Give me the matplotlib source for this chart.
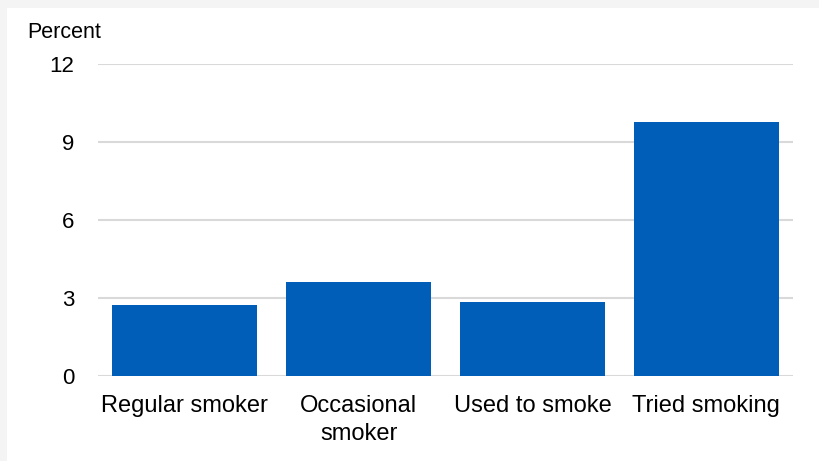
import matplotlib
matplotlib.use('Agg')
import matplotlib.pyplot as plt
from matplotlib.patches import Rectangle

# Chart data
categories = ['Regular smoker', 'Occasional\nsmoker', 'Used to smoke', 'Tried smoking']
percent = [2.75, 3.6, 2.85, 9.75]
yticks = [0, 3, 6, 9, 12]

plt.rcParams['font.family'] = ['Liberation Sans', 'DejaVu Sans']

fig = plt.figure(figsize=(8.19, 4.61), dpi=100, facecolor='#f4f4f4')
# white panel, leaving the thin grey strip on the top and left
fig.patches.append(Rectangle((7 / 819, 0), 1, (461 - 8) / 461, transform=fig.transFigure,
                             facecolor='white', edgecolor='none', zorder=-10))

ax = fig.add_axes([98 / 819, 85 / 461, 695 / 819, 312 / 461])
ax.set_facecolor('none')
ax.bar(range(len(categories)), percent, width=0.835, color='#005EB8', zorder=3)

ax.set_xlim(-0.5, len(categories) - 0.5)
ax.set_ylim(0, 12)
ax.set_yticks(yticks)
ax.set_xticks(range(len(categories)))
ax.set_xticklabels(categories, fontsize=17, color='#000000', linespacing=1.3)
ax.tick_params(axis='y', length=0, pad=17, labelsize=16)
ax.tick_params(axis='x', length=0, pad=14)
ax.grid(axis='y', color='#d9d9d9', linewidth=1.5, zorder=0)
for s in ax.spines.values():
    s.set_visible(False)

fig.text(27 / 819, 1 - 32 / 461, 'Percent', fontsize=15.5, ha='left', va='center')

plt.savefig('out.png', dpi=100, facecolor=fig.get_facecolor())
